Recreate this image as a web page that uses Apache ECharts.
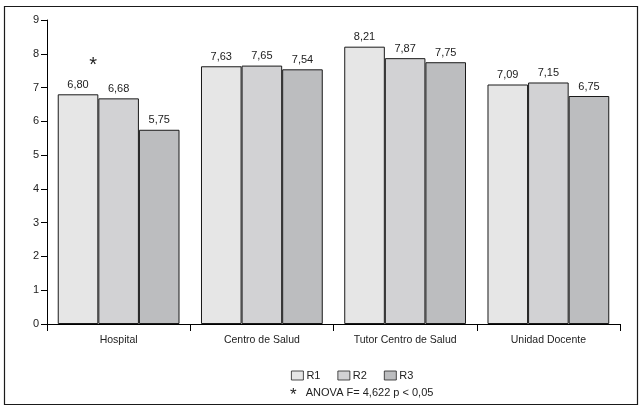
<!DOCTYPE html>
<html><head><meta charset="utf-8">
<script src="https://cdn.jsdelivr.net/npm/echarts@6/dist/echarts.min.js"></script>
<style>html,body{margin:0;padding:0;background:#fff}#c{width:643px;height:410px}</style>
</head><body><div id="c"></div>
<script>
const categories = ['Hospital', 'Centro de Salud', 'Tutor Centro de Salud', 'Unidad Docente'];
const seriesNames = ['R1', 'R2', 'R3'];
const r1 = [6.80, 7.63, 8.21, 7.09];
const r2 = [6.68, 7.65, 7.87, 7.15];
const r3 = [5.75, 7.54, 7.75, 6.75];
const starred = ['Hospital'];
const colors = ['#e6e6e6', '#d2d2d4', '#bcbdbf'];
const yTicks = [0,1,2,3,4,5,6,7,8,9];
const noteText = 'ANOVA F= 4,622 p < 0,05';

const fmt = v => v.toFixed(2).replace('.', ',');
const font = 'Liberation Sans, Arial, sans-serif';
const chart = echarts.init(document.getElementById('c'), null, {renderer: 'canvas'});
const data = [r1, r2, r3];
chart.setOption({
  animation: false,
  textStyle: {fontFamily: font},
  grid: {left: 47, top: 20, width: 573, height: 304, containLabel: false},
  legend: {
    data: seriesNames, top: 365, left: 286, icon: 'rect', itemWidth: 12, itemHeight: 9, itemGap: 17,
    textStyle: {fontSize: 11, color: '#222', fontFamily: font, padding: [0, 0, 0, -2]},
    itemStyle: {borderColor: '#222', borderWidth: 0.8}
  },
  xAxis: {
    type: 'category', data: categories,
    axisLine: {lineStyle: {color: '#000', width: 1}},
    axisTick: {show: true, length: 7, inside: false, lineStyle: {color: '#000'}},
    axisLabel: {fontSize: 10.5, color: '#222', margin: 11, fontFamily: font}
  },
  yAxis: {
    type: 'value', min: 0, max: 9, interval: 1,
    splitLine: {show: false},
    axisLine: {show: true, lineStyle: {color: '#000', width: 1}},
    axisTick: {show: true, length: 6, lineStyle: {color: '#000'}},
    axisLabel: {fontSize: 11, color: '#222', margin: 8, fontFamily: font,
      formatter: v => yTicks.includes(v) ? String(v) : ''}
  },
  series: data.map((d, i) => ({
    name: seriesNames[i], type: 'bar', data: d,
    barGap: '0%', barCategoryGap: '15%',
    itemStyle: {color: colors[i], borderColor: '#1a1a1a', borderWidth: 1},
    label: {
      show: true, position: 'top', distance: 4, fontSize: 11, color: '#222', fontFamily: font,
      formatter: p => (i === 0 && starred.includes(p.name)) ? '{s|*}\n' + fmt(p.value) : fmt(p.value),
      rich: {s: {fontSize: 20, lineHeight: 28, color: '#222', fontFamily: font, padding: [0, 0, 0, 30]}}
    }
  })),
  graphic: [
    {type: 'rect', shape: {x: 4.5, y: 6.5, width: 633, height: 398},
     style: {fill: 'none', stroke: '#1a1a1a', lineWidth: 1.2}, silent: true},
    {type: 'text', left: 290, top: 387,
     style: {text: '{s|*}   ' + noteText, fontSize: 11, fill: '#222', fontFamily: font,
       rich: {s: {fontSize: 17, fill: '#222', fontFamily: font, padding: [5, 0, 0, 0]}}}}
  ]
});
</script></body></html>
